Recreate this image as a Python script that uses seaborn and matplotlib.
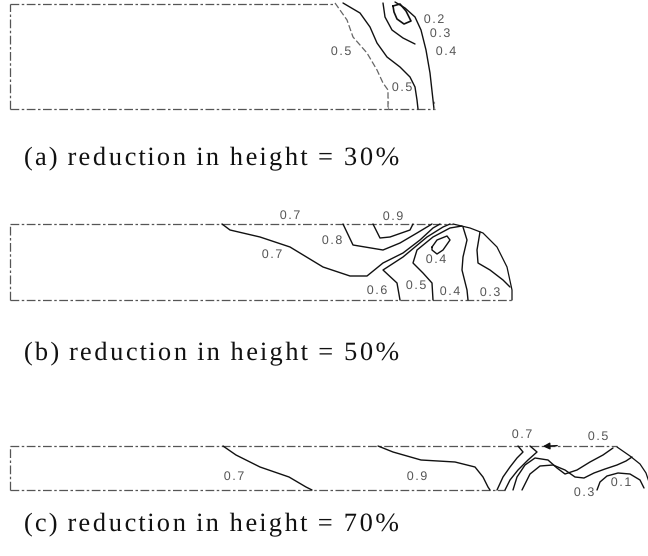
import numpy as np
import matplotlib
matplotlib.use("Agg")
import matplotlib.pyplot as plt
from matplotlib.patheffects import AbstractPathEffect
from matplotlib.path import Path
import seaborn as sns

sns.set_theme(style="white")
plt.rcParams["font.family"] = ["DejaVu Sans"]

W, H = 648, 556

# ---------------------------------------------------------------
# Strain-rate contours, workpiece coordinates:
# x measured from the left (axis) face, y measured up from the die face.
# ---------------------------------------------------------------

# (a) 30 % reduction
a_top = [(0, 105), (325, 105)]
a_left = [(0, 0), (0, 105)]
a_bottom = [(0, 0), (425, 0)]
a_c05_left = [(325, 106), (337, 89), (343, 72), (357, 56), (367, 39), (373, 26), (378, 19), (378, 0)]
a_c05_right = [(333, 106), (350, 96), (360, 82), (367, 66), (377, 52), (390, 42), (400, 32),
               (405, 22), (407, 9), (408, 0)]
a_c03 = [(373, 106), (375, 92), (382, 79), (393, 71), (405, 65)]
a_c02 = [(383, 103), (390, 105), (396, 98), (401, 88), (394, 85), (387, 90), (384, 97), (383, 103)]
a_c04 = [(385, 107), (395, 101), (405, 92), (411, 79), (416, 59), (420, 36), (423, 9), (424, 0)]
a_labels = [("0.2", 424, 89), ("0.3", 430, 75), ("0.4", 436, 57), ("0.5", 331, 57), ("0.5", 392, 21)]

# (b) 50 % reduction
b_top = [(0, 76), (443, 76)]
b_left = [(0, 0), (0, 76)]
b_bottom = [(0, 0), (502, 0)]
b_free = [(443, 76), (460, 72), (473, 67), (487, 53), (497, 33), (502, 10), (502, 0)]
b_c07 = [(212, 76), (220, 70), (250, 63), (280, 53), (313, 33), (340, 24), (357, 24), (373, 37),
         (393, 47), (410, 60), (423, 72), (430, 76)]
b_c08 = [(333, 76), (343, 55), (373, 50), (390, 57), (407, 67), (417, 73), (422, 76)]
b_c09 = [(363, 76), (370, 62), (380, 63), (400, 70), (403, 76)]
b_c06 = [(390, 0), (387, 17), (373, 30), (393, 43), (417, 63), (433, 73), (440, 76)]
b_c05 = [(423, 0), (422, 17), (413, 27), (403, 37), (407, 50), (423, 63), (440, 72), (452, 74)]
b_c04_loop = [(422, 53), (427, 60), (437, 64), (440, 60), (433, 50), (427, 46), (422, 50), (422, 53)]
b_c04 = [(453, 73), (457, 60), (453, 43), (452, 30), (457, 10), (458, 0)]
b_c03 = [(470, 68), (467, 50), (468, 37), (480, 30), (493, 20), (500, 13)]
b_labels = [("0.7", 280, 84), ("0.9", 383, 83), ("0.8", 322, 59), ("0.7", 262, 45),
            ("0.4", 426, 40), ("0.6", 367, 9), ("0.5", 406, 14), ("0.4", 440, 8), ("0.3", 480, 7)]

# (c) 70 % reduction
c_top = [(0, 44), (607, 44)]
c_left = [(0, 0), (0, 44)]
c_bottom = [(0, 0), (495, 0)]
c_free = [(607, 43), (620, 34), (630, 26), (636, 17), (639, 8)]
c_c07 = [(213, 44), (226, 35), (250, 23), (279, 13), (296, 3), (302, 0)]
c_c09 = [(368, 44), (383, 38), (411, 30), (445, 28), (465, 23), (473, 13), (478, 3), (480, 0)]
c_c08 = [(508, 44), (513, 38), (507, 32), (500, 23), (493, 13), (487, 0)]
c_c06 = [(520, 44), (527, 38), (518, 30), (508, 20), (500, 10), (495, 0)]
c_c05 = [(603, 42), (593, 35), (580, 28), (567, 20), (555, 16), (547, 22), (538, 30), (525, 32),
         (515, 25), (507, 13), (503, 0)]
c_c03 = [(622, 33), (616, 29), (607, 25), (595, 21), (584, 17), (574, 12), (565, 13), (555, 20),
         (543, 25), (530, 24), (520, 16), (512, 0)]
c_c01 = [(587, 0), (590, 8), (597, 14), (608, 17), (620, 16), (630, 10), (634, 2)]
c_labels = [("0.7", 224, 13), ("0.9", 407, 13), ("0.7", 512, 55), ("0.5", 588, 53),
            ("0.1", 611, 7), ("0.3", 574, -3)]

captions = ["(a) reduction in height = 30%",
            "(b) reduction in height = 50%",
            "(c) reduction in height = 70%"]
caption_baselines = [165, 360, 531]

INK = "#111111"
EDGE = "#555555"
LABEL = "#555555"


class Tracked(AbstractPathEffect):
    """Letter-space a text line: every glyph keeps its shape, but glyph positions
    are spread out by the factor ``sx`` about a pivot (0 = left origin, 0.5 = centre)."""

    def __init__(self, sx, pivot=0.0):
        super().__init__()
        self.sx = sx
        self.pivot = pivot

    def draw_path(self, renderer, gc, tpath, affine, rgbFace=None):
        codes = tpath.codes
        if codes is None:
            renderer.draw_path(gc, tpath, affine, rgbFace)
            return
        verts = np.array(tpath.vertices, dtype=float)
        starts = list(np.flatnonzero(codes == Path.MOVETO)) + [len(codes)]
        spans = []
        for s, e in zip(starts[:-1], starts[1:]):
            keep = codes[s:e] != Path.CLOSEPOLY
            xs = verts[s:e, 0][keep]
            if xs.size:
                spans.append((xs.min(), xs.max(), s, e))
        if not spans:
            renderer.draw_path(gc, tpath, affine, rgbFace)
            return
        spans.sort()
        left = min(sp[0] for sp in spans)
        right = max(sp[1] for sp in spans)
        x0 = left + self.pivot * (right - left) if self.pivot else 0.0
        groups = []
        for lo, hi, s, e in spans:
            mid = 0.5 * (lo + hi)
            if groups and groups[-1][0] <= mid <= groups[-1][1]:
                g = groups[-1]
                g[0], g[1] = min(g[0], lo), max(g[1], hi)
                g[2].append((s, e))
            else:
                groups.append([lo, hi, [(s, e)]])
        for lo, hi, members in groups:
            shift = (0.5 * (lo + hi) - x0) * (self.sx - 1.0)
            for s, e in members:
                verts[s:e, 0] += shift
        renderer.draw_path(gc, Path(verts, codes), affine, rgbFace)


def trace(ax, pts, color=INK, lw=1.0, ls="-"):
    xs = [p[0] for p in pts]
    ys = [p[1] for p in pts]
    sns.lineplot(x=xs, y=ys, ax=ax, sort=False, estimator=None, color=color,
                 linewidth=lw, linestyle=ls, legend=False)


def edge(ax, pts):
    trace(ax, pts, color=EDGE, lw=0.9, ls=(0, (7, 2, 2, 2)))


def label(ax, items):
    for txt, x, y in items:
        ax.text(x, y, txt, ha="center", va="center", fontsize=9, color=LABEL,
                family="Liberation Sans", path_effects=[Tracked(1.3, pivot=0.5)])


fig = plt.figure(figsize=(W / 100, H / 100), dpi=100)
fig.patch.set_facecolor("white")


def panel(top_px, bottom_px, face_px):
    ax = fig.add_axes([0, 1 - bottom_px / H, 1, (bottom_px - top_px) / H])
    ax.set_xlim(-10, W - 10)
    ax.set_ylim(face_px - bottom_px, face_px - top_px)
    ax.set_axis_off()
    return ax


# (a)
ax = panel(0, 120, 109)
for e in (a_top, a_left, a_bottom):
    edge(ax, e)
trace(ax, a_c05_left, color="#666666", lw=0.9, ls=(0, (5, 2)))
trace(ax, a_c05_right)
trace(ax, a_c03)
trace(ax, a_c02, lw=1.2)
trace(ax, a_c04)
trace(ax, [(378, 0), (378, 12)], color="#888888", lw=0.8, ls=(0, (2, 3)))
trace(ax, [(424, 0), (424, 10)], color="#888888", lw=0.8, ls=(0, (2, 3)))
label(ax, a_labels)

# (b)
ax = panel(195, 315, 300)
for e in (b_top, b_left, b_bottom):
    edge(ax, e)
trace(ax, b_free, lw=0.9)
for c in (b_c07, b_c08, b_c09, b_c06, b_c05, b_c04_loop, b_c04, b_c03):
    trace(ax, c)
label(ax, b_labels)

# (c)
ax = panel(415, 505, 490)
for e in (c_top, c_left, c_bottom):
    edge(ax, e)
trace(ax, c_free, lw=0.9)
for c in (c_c07, c_c09, c_c08, c_c06, c_c05, c_c03, c_c01):
    trace(ax, c)
ax.annotate("", xy=(530, 43.5), xytext=(550, 44.5),
            arrowprops=dict(arrowstyle="-|>", color=INK, lw=1.0, mutation_scale=10))
label(ax, c_labels)

# captions, lightly letter-spaced serif
CAPTION_LEFT = 23
CAPTION_WIDTH = 378
renderer = fig.canvas.get_renderer()
for txt, yb in zip(captions, caption_baselines):
    t = fig.text(CAPTION_LEFT / W, 1 - yb / H, txt, ha="left", va="baseline", fontsize=19,
                 family="Liberation Serif", color="#111111")
    natural = t.get_window_extent(renderer).width
    t.set_path_effects([Tracked(CAPTION_WIDTH / natural)])

fig.savefig("out.png", dpi=100, facecolor="white")
